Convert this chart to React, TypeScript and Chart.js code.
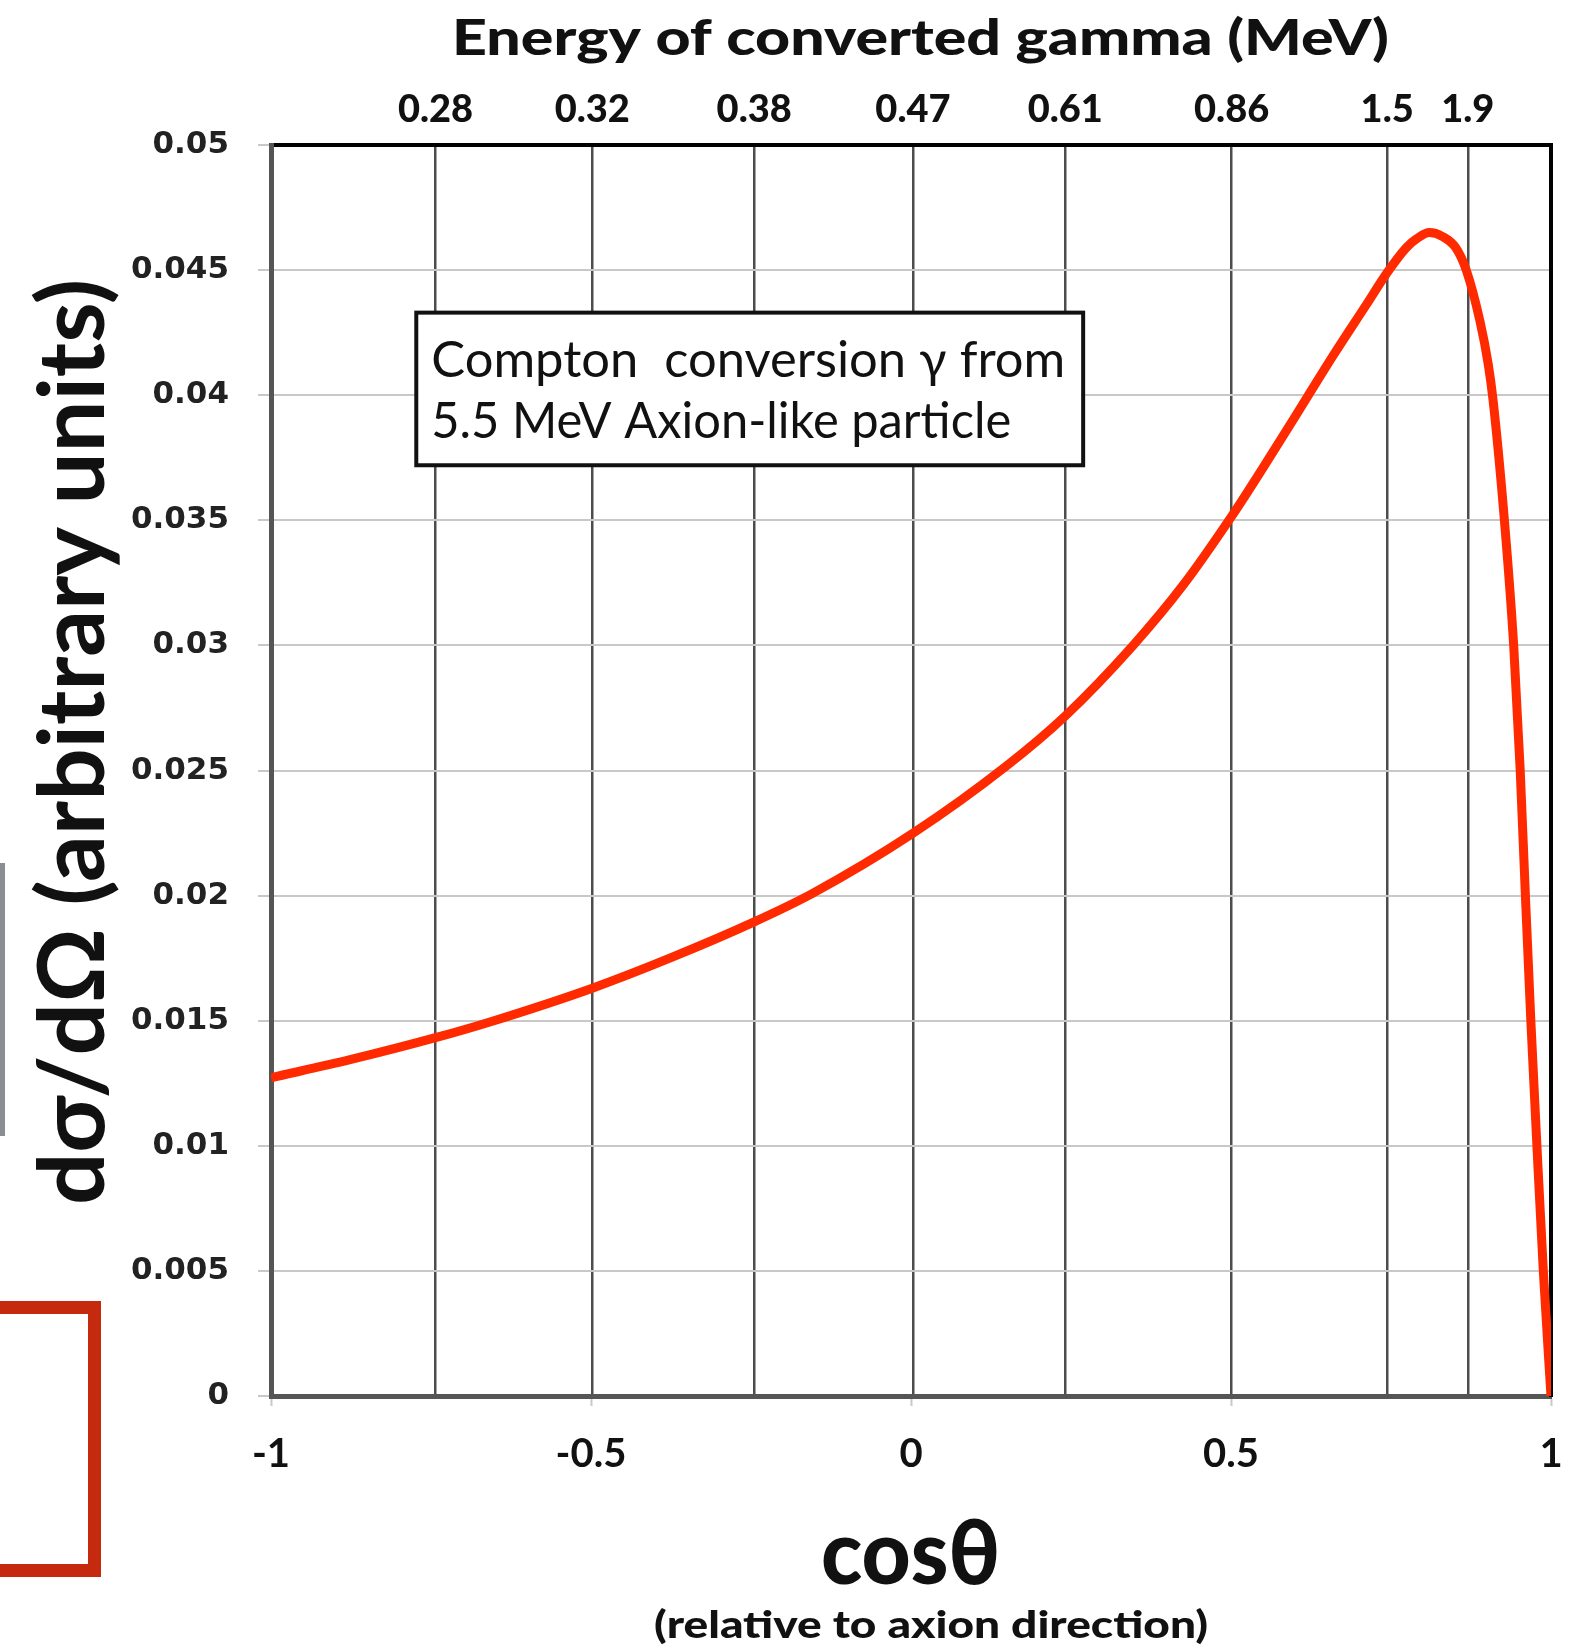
import React, { useEffect, useRef } from "react";
import { Chart, registerables } from "chart.js";

Chart.register(...registerables);

// ---- data ----
const cosTheta = [
  -1, -0.875, -0.743, -0.658, -0.498, -0.375, -0.245, -0.153, 0.003, 0.15, 0.241, 0.347,
  0.425, 0.501, 0.555, 0.621, 0.66, 0.711, 0.744, 0.774, 0.79, 0.81, 0.83, 0.851, 0.8676,
  0.889, 0.902, 0.9095, 0.9272, 0.9417, 0.9519, 0.96, 0.9685, 0.978, 0.988, 1,
];
const crossSection = [
  0.01272, 0.01345, 0.01432, 0.01495, 0.0163, 0.01752, 0.01895, 0.0201, 0.02249, 0.0252, 0.02718, 0.03,
  0.0324, 0.03516, 0.0373, 0.04, 0.0416, 0.0436, 0.0449, 0.0459, 0.04625, 0.0465, 0.04635, 0.0459, 0.045,
  0.04296, 0.04123, 0.0398, 0.035, 0.03, 0.025, 0.02, 0.015, 0.01, 0.005, 0,
];
const cosTicks = [-1, -0.5, 0, 0.5, 1];
const yTicks = [0, 0.005, 0.01, 0.015, 0.02, 0.025, 0.03, 0.035, 0.04, 0.045, 0.05];
const energyTickPositions = [-0.743, -0.498, -0.245, 0.003, 0.241, 0.501, 0.744, 0.87];
const energyTickLabels = ["0.28", "0.32", "0.38", "0.47", "0.61", "0.86", "1.5", "1.9"];

const titleTop = "Energy of converted gamma (MeV)";
const titleX = "cosθ";
const subtitleX = "(relative to axion direction)";
const titleY = "dσ/dΩ (arbitrary units)";
const noteLines = ["Compton  conversion γ from", "5.5 MeV Axion-like particle"];

function fitText(ctx: CanvasRenderingContext2D, text: string, left: number, baseline: number, width: number, font: string, color: string) {
  ctx.save();
  ctx.font = font;
  ctx.fillStyle = color;
  ctx.textAlign = "left";
  ctx.textBaseline = "alphabetic";
  const w = ctx.measureText(text).width;
  ctx.translate(left, baseline);
  ctx.scale(width / w, 1);
  ctx.fillText(text, 0, 0);
  ctx.restore();
}

const decorPlugin = {
  id: "decor",
  afterDatasetsDraw(chart: any) {
    const ctx: CanvasRenderingContext2D = chart.ctx;
    const xs = chart.scales.x;
    const ys = chart.scales.y;
    // annotation box
    const bx0 = xs.getPixelForValue(-0.773);
    const bx1 = xs.getPixelForValue(0.269);
    const by0 = ys.getPixelForValue(0.0433);
    const by1 = ys.getPixelForValue(0.0372);
    ctx.save();
    ctx.fillStyle = "#ffffff";
    ctx.fillRect(bx0, by0, bx1 - bx0, by1 - by0);
    ctx.strokeStyle = "#111";
    ctx.lineWidth = 4;
    ctx.strokeRect(bx0, by0, bx1 - bx0, by1 - by0);
    ctx.restore();
    fitText(ctx, noteLines[0], bx0 + 15, by0 + 64, 634, "50px Lato", "#111");
    fitText(ctx, noteLines[1], bx0 + 15, by0 + 125, 580, "50px Lato", "#111");
  },
  afterDraw(chart: any) {
    const ctx: CanvasRenderingContext2D = chart.ctx;
    // top title
    fitText(ctx, titleTop, 452, 55, 937, "900 50px Lato", "#111");
    // bottom titles
    fitText(ctx, titleX, 821, 1584, 179, "900 90px Lato", "#111");
    fitText(ctx, subtitleX, 654, 1638, 554, "900 37px Lato", "#111");
    // y title
    ctx.save();
    ctx.translate(104, 742);
    ctx.rotate(-Math.PI / 2);
    fitText(ctx, titleY, -463, 0, 926, "bold 92px Lato", "#111");
    ctx.restore();
  },
};

export default function App() {
  const ref = useRef<HTMLCanvasElement | null>(null);
  useEffect(() => {
    if (!ref.current) return;
    const chart = new Chart(ref.current, {
      type: "line",
      data: {
        datasets: [
          {
            data: cosTheta.map((x, i) => ({ x, y: crossSection[i] })),
            borderColor: "#ff2a00",
            borderWidth: 9,
            pointRadius: 0,
            fill: false,
            cubicInterpolationMode: "monotone",
            xAxisID: "x",
            yAxisID: "y",
          },
        ],
      },
      options: {
        responsive: false,
        animation: false,
        devicePixelRatio: 1,
        layout: { autoPadding: false, padding: { left: 0, right: 27, top: 0, bottom: 0 } },
        plugins: { legend: { display: false }, tooltip: { enabled: false } },
        scales: {
          x: {
            type: "linear",
            position: "bottom",
            min: -1,
            max: 1,
            afterBuildTicks: (s: any) => {
              s.ticks = cosTicks.map((v) => ({ value: v }));
            },
            ticks: {
              callback: (v: any) => String(v),
              font: { family: "Lato", weight: "bold", size: 40, lineHeight: 2.4 },
              color: "#111",
              padding: 0,
              maxRotation: 0,
              autoSkip: false,
            },
            grid: { drawOnChartArea: false, drawTicks: true, tickLength: 10, tickColor: "#c8c8c8", tickWidth: 2 },
            border: { color: "#555", width: 5 },
            afterFit: (s: any) => {
              s.height = 254;
            },
          },
          x2: {
            type: "linear",
            position: "top",
            min: -1,
            max: 1,
            afterBuildTicks: (s: any) => {
              s.ticks = energyTickPositions.map((v) => ({ value: v }));
            },
            ticks: {
              callback: (_v: any, i: number) => energyTickLabels[i],
              font: { family: "Lato", weight: "900", size: 38, lineHeight: 1 },
              color: "#111",
              padding: 16,
              maxRotation: 0,
              autoSkip: false,
            },
            grid: { color: "#4d4d4d", lineWidth: 2.5, drawTicks: false },
            border: { color: "#000", width: 4 },
            afterFit: (s: any) => {
              s.height = 145;
            },
          },
          y: {
            type: "linear",
            position: "left",
            min: 0,
            max: 0.05,
            afterBuildTicks: (s: any) => {
              s.ticks = yTicks.map((v) => ({ value: v }));
            },
            ticks: {
              callback: (v: any) => (Number(v) === 0 ? "0" : String(parseFloat(Number(v).toFixed(3)))),
              font: { family: "DejaVu Sans", weight: "bold", size: 31, lineHeight: 1 },
              color: "#222",
              padding: 29,
            },
            grid: { color: "#c8c8c8", lineWidth: 2, tickLength: 13, tickColor: "#c8c8c8" },
            border: { color: "#555", width: 5 },
            afterFit: (s: any) => {
              s.width = 271;
            },
          },
          y2: {
            type: "linear",
            position: "right",
            display: true,
            min: 0,
            max: 0.05,
            ticks: { display: false },
            grid: { display: false, drawTicks: false },
            border: { color: "#000", width: 4 },
            afterFit: (s: any) => {
              s.width = 0;
            },
          },
        },
      } as any,
      plugins: [decorPlugin],
    });
    return () => chart.destroy();
  }, []);

  return (
    <div style={{ position: "absolute", left: 0, top: 0, width: 1578, height: 1650, background: "#fff", overflow: "hidden" }}>
      <canvas ref={ref} width={1578} height={1650} style={{ position: "absolute", left: 0, top: 0 }} />
      <div style={{ position: "absolute", left: 0, top: 863, width: 5, height: 273, background: "#8a8d92" }} />
      <div
        style={{
          position: "absolute",
          left: -40,
          top: 1301,
          width: 141,
          height: 276,
          border: "13px solid #c62a0e",
          boxSizing: "border-box",
        }}
      />
    </div>
  );
}
